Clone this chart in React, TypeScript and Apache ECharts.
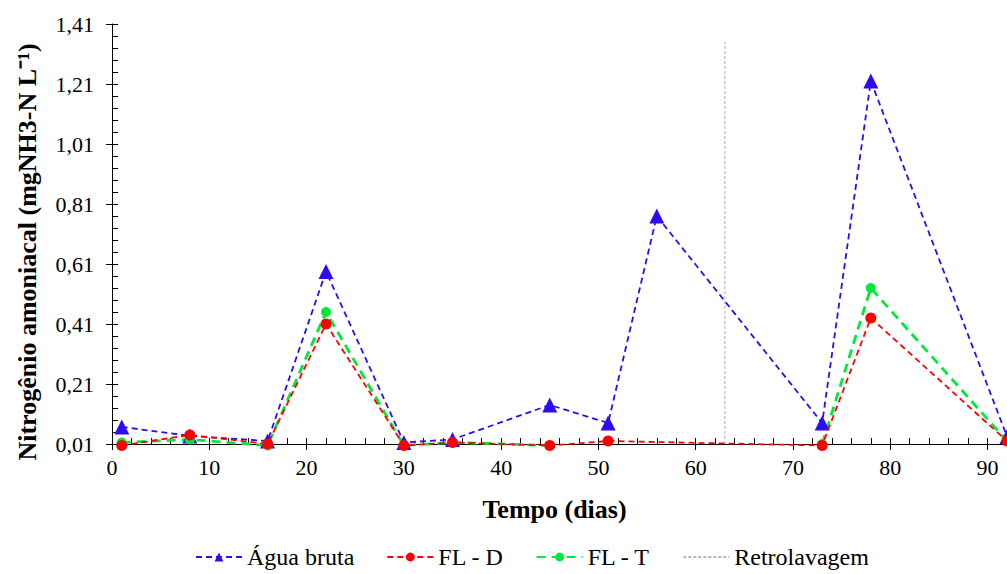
import React, { useEffect, useRef } from "react";
import * as echarts from "echarts";

const days = [1, 8, 16, 22, 30, 35, 45, 51, 56, 73, 78, 92];
const aguaBruta = [0.067, 0.037, 0.02, 0.585, 0.015, 0.025, 0.14, 0.08, 0.77, 0.08, 1.22, 0.035];
const flD = [0.005, 0.04, 0.01, 0.41, 0.005, 0.015, 0.005, 0.02, null, 0.005, 0.43, 0.02];
const flT = [0.015, 0.025, 0.005, 0.45, 0.005, 0.015, 0.005, null, null, 0.01, 0.53, 0.02];
const retroDay = 63;
const retroRange = [0.01, 1.35];
const seriesNames = ["Água bruta", "FL - D", "FL - T", "Retrolavagem"];

const FONT = "'Liberation Serif', 'Times New Roman', serif";

function pairs(xs: number[], ys: (number | null)[]) {
  return xs.map((x, i) => [x, ys[i]]);
}

export default function App() {
  const ref = useRef<HTMLDivElement>(null);
  useEffect(() => {
    if (!ref.current) return;
    const chart = echarts.init(ref.current, null, { renderer: "svg" });
    const axisLineStyle = { color: "#000", width: 1 };
    chart.setOption({
      animation: false,
      backgroundColor: "#fff",
      textStyle: { fontFamily: FONT },
      grid: { left: 112, right: 0, top: 24, bottom: 130, outerBoundsMode: "none", containLabel: false },
      legend: {
        data: [
          seriesNames[0],
          seriesNames[1],
          seriesNames[2],
          { name: seriesNames[3], itemStyle: { opacity: 0 } },
        ],
        top: 545,
        left: 195,
        padding: 0,
        itemGap: 32,
        itemWidth: 46,
        itemHeight: 11,
        textStyle: { fontFamily: FONT, fontSize: 24, lineHeight: 24, color: "#000" },
      },
      xAxis: [
        {
          type: "value",
          min: 0,
          max: 92,
          interval: 10,
          name: "Tempo (dias)",
          nameLocation: "middle",
          nameGap: 52,
          nameTextStyle: { fontFamily: FONT, fontSize: 26, fontWeight: "bold", color: "#000", padding: [0, 10, 0, 0] },
          axisLine: { show: true, onZero: false, lineStyle: axisLineStyle },
          axisTick: { show: true, inside: true, length: 6, lineStyle: axisLineStyle },
          minorTick: { show: true, splitNumber: 5, length: 6, lineStyle: { color: "#000", width: 1 } },
          splitLine: { show: false },
          axisLabel: {
            fontFamily: FONT,
            fontSize: 22,
            color: "#000",
            margin: 12,
            showMaxLabel: false,
            formatter: (v: number) => (v % 10 === 0 ? String(v) : ""),
          },
        },
        {
          type: "value",
          min: 0,
          max: 92,
          interval: 10,
          position: "bottom",
          axisLine: { show: false },
          axisTick: { show: true, inside: false, length: 6, lineStyle: axisLineStyle },
          axisLabel: { show: false },
          splitLine: { show: false },
        },
      ],
      yAxis: [
        {
          type: "value",
          min: 0.01,
          max: 1.41,
          interval: 0.2,
          name: "Nitrogênio amoniacal (mgNH3-N L⁻¹)",
          nameLocation: "middle",
          nameGap: 72,
          nameTextStyle: { fontFamily: FONT, fontSize: 26, fontWeight: "bold", color: "#000", padding: [0, 36, 0, 0] },
          axisLine: { show: true, onZero: false, lineStyle: axisLineStyle },
          axisTick: { show: true, inside: true, length: 6, lineStyle: axisLineStyle },
          minorTick: { show: true, splitNumber: 5, length: 6, lineStyle: { color: "#000", width: 1 } },
          splitLine: { show: false },
          axisLabel: {
            fontFamily: FONT,
            fontSize: 22,
            color: "#000",
            margin: 18,
            formatter: (v: number) => v.toFixed(2).replace(".", ","),
          },
        },
        {
          type: "value",
          min: 0.01,
          max: 1.41,
          interval: 0.2,
          position: "left",
          axisLine: { show: false },
          axisTick: { show: true, inside: false, length: 6, lineStyle: axisLineStyle },
          axisLabel: { show: false },
          splitLine: { show: false },
        },
      ],
      series: [
        {
          name: seriesNames[0],
          type: "line",
          clip: false,
          data: pairs(days, aguaBruta),
          symbol: "triangle",
          symbolSize: 15,
          itemStyle: { color: "#2A0DF0" },
          lineStyle: { color: "#2A0DF0", width: 1.8, type: [6, 4] },
          z: 3,
        },
        {
          name: seriesNames[1],
          type: "line",
          clip: false,
          connectNulls: true,
          data: pairs(days, flD),
          symbol: "circle",
          symbolSize: 11,
          itemStyle: { color: "#FF0000" },
          lineStyle: { color: "#FF0000", width: 1.8, type: [6, 4] },
          z: 4,
        },
        {
          name: seriesNames[2],
          type: "line",
          clip: false,
          connectNulls: false,
          data: pairs(days, flT),
          symbol: "circle",
          symbolSize: 10,
          itemStyle: { color: "#00E83A" },
          lineStyle: { color: "#00E83A", width: 2.8, type: [9, 6] },
          z: 3,
        },
        {
          name: seriesNames[3],
          type: "line",
          clip: false,
          data: retroRange.map((y) => [retroDay, y]),
          symbol: "none",
          itemStyle: { color: "#B8B8B8" },
          lineStyle: { color: "#B8B8B8", width: 1.2, type: [3, 2] },
          z: 2,
        },
      ],
    });
    return () => chart.dispose();
  }, []);
  return (
    <div
      ref={ref}
      style={{ position: "fixed", left: 0, top: 0, width: 1007, height: 574, background: "#fff" }}
    />
  );
}
